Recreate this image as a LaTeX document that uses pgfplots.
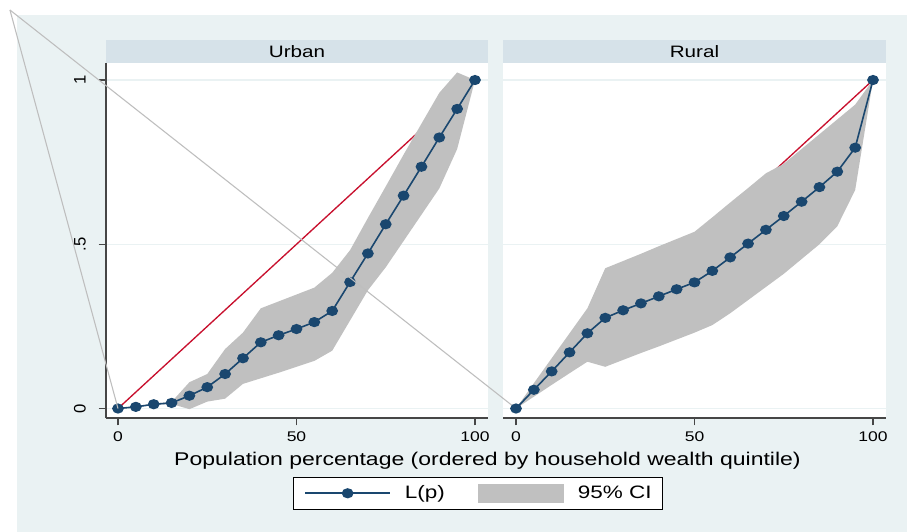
\documentclass[border=0pt]{standalone}
\usepackage{pgfplots}
\pgfplotsset{compat=1.18}
\usepackage{pgfplotstable}
\usepackage{fontspec}
\setmainfont{Liberation Sans}[FakeStretch=1.25]
\newfontfamily\yfont{Liberation Sans}
\definecolor{bgc}{RGB}{234,242,243}
\definecolor{stripc}{RGB}{214,226,233}
\definecolor{navyc}{RGB}{26,71,111}
\definecolor{redc}{RGB}{200,16,46}
\definecolor{bandc}{RGB}{192,192,192}
\definecolor{artc}{RGB}{190,190,190}
\definecolor{axc}{RGB}{70,70,70}

% concentration curve L(p)
\pgfplotstableread{
x L
0 0
5 0.005
10 0.013
15 0.017
20 0.039
25 0.065
30 0.105
35 0.153
40 0.2015
45 0.223
50 0.242
55 0.263
60 0.297
65 0.385
70 0.472
75 0.561
80 0.648
85 0.736
90 0.825
95 0.912
100 1
}\urban

% 95% CI: upper bound forward, lower bound backward
\pgfplotstableread{
x ci
0 0
5 0.006
10 0.015
15 0.020
20 0.080
25 0.105
30 0.181
35 0.231
40 0.305
45 0.326
50 0.347
55 0.368
60 0.413
65 0.482
70 0.580
75 0.676
80 0.773
85 0.867
90 0.961
95 1.023
100 1
95 0.790
90 0.670
85 0.590
80 0.510
75 0.430
70 0.360
65 0.268
60 0.176
55 0.145
50 0.127
45 0.109
40 0.092
35 0.075
30 0.030
25 0.021
20 -0.002
15 0.014
10 0.011
5 0.004
0 0
}\urbanci

\pgfplotstableread{
x L
0 0
5 0.057
10 0.113
15 0.171
20 0.229
25 0.276
30 0.299
35 0.320
40 0.3415
45 0.363
50 0.384
55 0.419
60 0.460
65 0.502
70 0.544
75 0.586
80 0.6295
85 0.674
90 0.721
95 0.794
100 1
}\rural

\pgfplotstableread{
x ci
0 0
5 0.077
10 0.153
15 0.229
20 0.305
25 0.427
30 0.449
35 0.471
40 0.494
45 0.516
50 0.538
55 0.582
60 0.627
65 0.671
70 0.716
75 0.745
80 0.790
85 0.835
90 0.880
95 0.925
100 1
95 0.665
90 0.555
85 0.500
80 0.455
75 0.410
70 0.370
65 0.330
60 0.290
55 0.254
50 0.231
45 0.210
40 0.189
35 0.169
30 0.148
25 0.127
20 0.1425
15 0.1075
10 0.072
5 0.036
0 0
}\ruralci

\pgfplotsset{
  panel/.style={
    scale only axis, height=266.25pt,
    ymin=-0.0289, ymax=1.0518,
    axis background/.style={fill=white},
    axis x line*=bottom, axis y line*=left,
    axis line style={axc, line width=0.8pt},
    xtick={0,50,100}, ytick={0,0.5,1},
    tick align=outside, major tick length=5.5pt,
    tick style={axc, line width=0.8pt},
    ymajorgrids, major grid style={bgc, line width=1pt},
    tick label style={font=\fontsize{10.5}{12}\selectfont, black},
    /pgf/number format/assume math mode=true,
    xticklabel style={anchor=north, inner sep=0pt},
    xticklabel shift=4.5pt,
    every axis title/.style={at={(0.5,1)}, anchor=south, fill=stripc, inner sep=0pt,
      minimum height=17.25pt, font=\fontsize{12.4}{14}\selectfont},
  },
  lp/.style={navyc, line width=1.2pt, mark=*, mark size=3.2pt,
    mark options={fill=navyc, draw=navyc, xscale=1.18}},
  lpleg/.style={legend image code/.code={\draw[mark repeat=2, mark phase=2, ##1] plot coordinates {(0pt,0pt) (31.75pt,0pt) (63.5pt,0pt)};}},
  cileg/.style={legend image code/.code={\fill[##1] (0pt,-7.25pt) rectangle (64.5pt,7.25pt);}},
}

\begin{document}
\begin{tikzpicture}[x=1pt,y=1pt]
\fill[white] (0,0) rectangle (680.25,-399);
\fill[bgc] (12.75,-11.25) rectangle (680.25,-399);

\begin{axis}[panel, at={(79.5pt,-313.5pt)}, anchor=south west,
  width=286.5pt, xmin=-3.36, xmax=103.64,
  title={Urban}, title style={minimum width=286.5pt},
  yticklabels={0,.5,1},
  yticklabel style={rotate=90, anchor=south, inner sep=0pt, font=\yfont\fontsize{12.5}{14}\selectfont},
  yticklabel shift=9.5pt,
  xlabel={Population percentage (ordered by household wealth quintile)},
  xlabel style={at={(axis description cs:0.9987,-0.121)}, anchor=center,
    font=\fontsize{13.8}{16}\selectfont},
  legend columns=2,
  legend style={at={(axis description cs:0.974,-0.212)}, anchor=center,
    draw=black, line width=0.6pt, fill=white, inner xsep=8pt, inner ysep=5pt,
    font=\fontsize{13.5}{16}\selectfont,
    nodes={inner sep=0pt}, cells={anchor=west},
    /tikz/every odd column/.append style={column sep=10.5pt},
    /tikz/every even column/.append style={column sep=24.75pt}},
]
\addplot[redc, line width=1pt, forget plot] coordinates {(0,0) (100,1)};
\addplot[fill=bandc, draw=none, forget plot] table[x=x,y=ci]{\urbanci} -- cycle;
\addplot[lp, forget plot] table[x=x,y=L]{\urban};
\addlegendimage{lp, lpleg}
\addlegendentry{L(p)}
\addlegendimage{fill=bandc, draw=none, cileg}
\addlegendentry{95\% CI}
\end{axis}

\begin{axis}[panel, at={(377.25pt,-313.5pt)}, anchor=south west,
  width=287.25pt, xmin=-3.64, xmax=103.64,
  title={Rural}, title style={minimum width=287.25pt},
  yticklabels={}, y axis line style={draw=none}, ytick style={draw=none},
  clip=false,
]
\addplot[redc, line width=1pt, forget plot] coordinates {(0,0) (100,1)};
\addplot[fill=bandc, draw=none, forget plot] table[x=x,y=ci]{\ruralci} -- cycle;
\addplot[lp, forget plot] table[x=x,y=L]{\rural};
\addplot[artc, line width=0.8pt, forget plot] coordinates {(-141.74,1.2131) (-111.48,0)};
\addplot[artc, line width=0.8pt, forget plot] coordinates {(-141.74,1.2131) (0,0)};
\end{axis}
\pgfresetboundingbox
\path[use as bounding box] (0,0) rectangle (680.25,-399);
\end{tikzpicture}
\end{document}
